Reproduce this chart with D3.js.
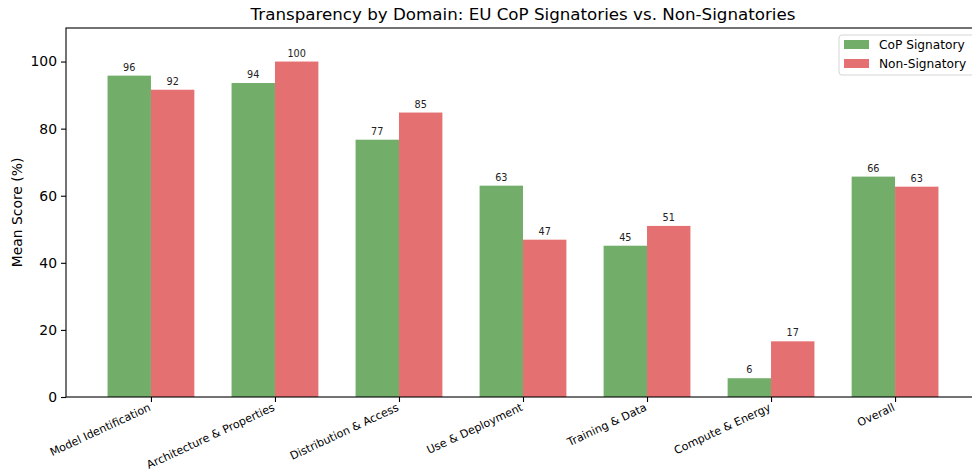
<!DOCTYPE html>
<html>
<head>
<meta charset="utf-8">
<script src="https://cdn.jsdelivr.net/npm/d3@7"></script>
<style>
  body { margin: 0; background: #fff; }
  svg { display: block; font-family: "DejaVu Sans", sans-serif; }
</style>
</head>
<body>
<div id="chart"></div>
<script>
// Chart data
const domains = ["Model Identification", "Architecture & Properties", "Distribution & Access",
                 "Use & Deployment", "Training & Data", "Compute & Energy", "Overall"];
const signatory = [95.8, 93.6, 76.7, 63.0, 45.1, 5.6, 65.7];
const nonSignatory = [91.6, 100, 84.8, 46.9, 51.0, 16.6, 62.7];
const seriesNames = ["CoP Signatory", "Non-Signatory"];
const seriesColors = ["#72ae6a", "#e57072"];
const yTicks = [0, 20, 40, 60, 80, 100];

let width = 972;
let height = 472;
// plot box (right spine sits just past the picture edge, like the original)
let margin = {top: 28, right: -8, bottom: 75, left: 66};

const svg = d3.select("#chart")
  .append("svg")
  .attr("width", width)
  .attr("height", height);

const plotW = width - margin.left - margin.right;
const plotH = height - margin.top - margin.bottom;

const g = svg.append("g")
  .attr("transform", "translate(" + margin.left + "," + margin.top + ")");

// linear x like matplotlib: bars at i -/+ 0.35/2, with 5% margins
const barW = 0.35;
const x = d3.scaleLinear().domain([-0.685, domains.length - 1 + 0.685]).range([0, plotW]);
const y = d3.scaleLinear().domain([0, 110]).range([plotH, 0]);

// bars
const series = [signatory, nonSignatory];
series.forEach(function(vals, s) {
  const off = s === 0 ? -barW : 0;
  g.selectAll(".bar" + s)
    .data(vals)
    .enter()
    .append("rect")
    .attr("x", (d, i) => x(i + off))
    .attr("width", x(barW) - x(0))
    .attr("y", d => y(d))
    .attr("height", d => y(0) - y(d))
    .attr("fill", seriesColors[s]);

  // value labels
  g.selectAll(".lab" + s)
    .data(vals)
    .enter()
    .append("text")
    .attr("x", (d, i) => x(i + off + barW / 2))
    .attr("y", d => y(d) - 5)
    .attr("text-anchor", "middle")
    .attr("font-size", "9.7px")
    .attr("fill", "#222")
    .text(d => Math.round(d));
});

// y axis
const yAxis = g.append("g")
  .call(d3.axisLeft(y).tickValues(yTicks).tickSize(5).tickPadding(4));
yAxis.select(".domain").remove();
yAxis.selectAll("text").attr("font-size", "13.9px").attr("fill", "#000").style("font-family", "DejaVu Sans");
yAxis.selectAll("line").attr("stroke", "#000").attr("stroke-width", 1.1);

// x axis
const xAxis = g.append("g")
  .attr("transform", "translate(0," + plotH + ")")
  .call(d3.axisBottom(x).tickValues(d3.range(domains.length)).tickSize(5).tickFormat((d, i) => domains[i]));
xAxis.select(".domain").remove();
xAxis.selectAll("line").attr("stroke", "#000").attr("stroke-width", 1.1);
xAxis.selectAll("text")
  .attr("font-size", "11.1px")
  .attr("fill", "#000")
  .style("font-family", "DejaVu Sans")
  .attr("text-anchor", "end")
  .attr("dy", null)
  .attr("y", 0)
  .attr("transform", "translate(0,13) rotate(-25)");

// spines
g.append("rect")
  .attr("x", 0).attr("y", 0)
  .attr("width", plotW).attr("height", plotH)
  .attr("fill", "none")
  .attr("stroke", "#000")
  .attr("stroke-width", 1.1);

// title
svg.append("text")
  .attr("x", margin.left + plotW / 2)
  .attr("y", 20)
  .attr("text-anchor", "middle")
  .attr("font-size", "16.7px")
  .attr("fill", "#000")
  .text("Transparency by Domain: EU CoP Signatories vs. Non-Signatories");

// y label
svg.append("text")
  .attr("transform", "translate(22," + (margin.top + plotH / 2) + ") rotate(-90)")
  .attr("text-anchor", "middle")
  .attr("font-size", "13.9px")
  .attr("fill", "#000")
  .text("Mean Score (%)");

// legend
const leg = svg.append("g").attr("transform", "translate(839,35)");
leg.append("rect")
  .attr("width", 140).attr("height", 40)
  .attr("rx", 3)
  .attr("fill", "#fff").attr("fill-opacity", 0.8)
  .attr("stroke", "#d5d5d5");
seriesNames.forEach(function(name, i) {
  leg.append("rect")
    .attr("x", 5).attr("y", 5 + i * 19)
    .attr("width", 25).attr("height", 9)
    .attr("fill", seriesColors[i]);
  leg.append("text")
    .attr("x", 40).attr("y", 14 + i * 19)
    .attr("font-size", "12.2px")
    .attr("fill", "#000")
    .text(name);
});
</script>
</body>
</html>
